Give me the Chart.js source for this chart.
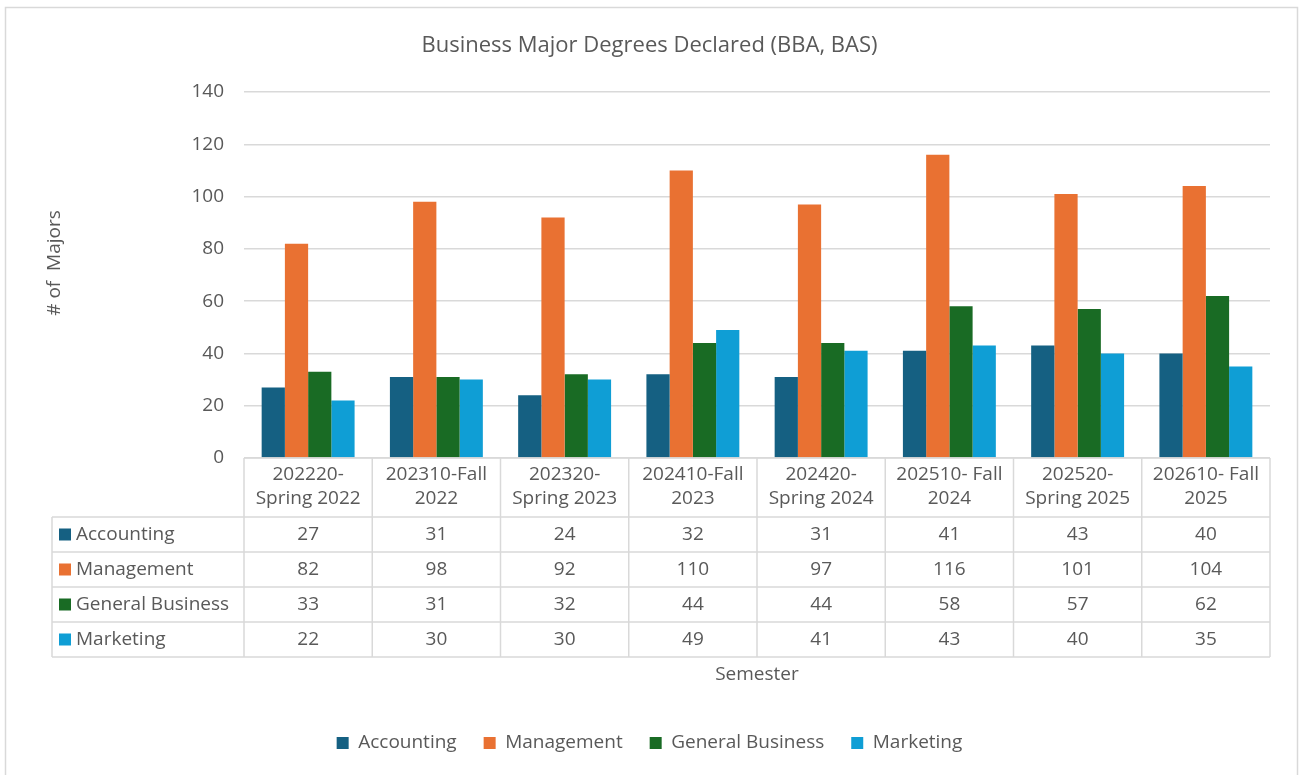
<!DOCTYPE html>
<html><head><meta charset="utf-8">
<script src="https://cdn.jsdelivr.net/npm/chart.js@4.4.1/dist/chart.umd.min.js"></script>
<style>html,body{margin:0;padding:0;background:#fff;}canvas{display:block;}</style>
</head><body>
<canvas id="c" width="1299" height="775"></canvas>
<script>
const chartTitle = 'Business Major Degrees Declared (BBA, BAS)';
const xAxisTitle = 'Semester';
const yAxisTitle = '# of  Majors';
const categories = [
  ['202220-', 'Spring 2022'],
  ['202310-Fall', '2022'],
  ['202320-', 'Spring 2023'],
  ['202410-Fall', '2023'],
  ['202420-', 'Spring 2024'],
  ['202510- Fall', '2024'],
  ['202520-', 'Spring 2025'],
  ['202610- Fall', '2025']
];
const seriesNames = ['Accounting', 'Management', 'General Business', 'Marketing'];
const accounting = [27, 31, 24, 32, 31, 41, 43, 40];
const management = [82, 98, 92, 110, 97, 116, 101, 104];
const generalBusiness = [33, 31, 32, 44, 44, 58, 57, 62];
const marketing = [22, 30, 30, 49, 41, 43, 40, 35];
const yTickMin = 0, yTickMax = 140, yTickStep = 20;
const seriesColors = ['#156082', '#E97132', '#196B24', '#0F9ED5'];

const seriesValues = [accounting, management, generalBusiness, marketing];
const FONT = "'Open Sans', 'Noto Sans', sans-serif";
const TEXT = '#595959';
const LINE = '#D9D9D9';
const BODY = 19;

const framePlugin = {
  id: 'frame',
  beforeDraw(chart) {
    const ctx = chart.ctx;
    ctx.save();
    ctx.fillStyle = '#fff';
    ctx.fillRect(0, 0, chart.width, chart.height);
    ctx.strokeStyle = LINE;
    ctx.lineWidth = 1.5;
    ctx.strokeRect(5.5, 7.5, 1292, 800);
    ctx.restore();
  }
};

const tablePlugin = {
  id: 'dataTable',
  afterDraw(chart) {
    const ctx = chart.ctx;
    const xs = chart.scales.x;
    const area = chart.chartArea;
    const n = categories.length;
    const colW = (area.right - area.left) / n;
    const tableLeft = 52;
    const headTop = area.bottom;
    const headH = 59;
    const rowH = 35;
    const rowsTop = headTop + headH;
    const tableBottom = rowsTop + rowH * seriesNames.length;
    ctx.save();
    ctx.strokeStyle = LINE;
    ctx.lineWidth = 1.5;
    ctx.beginPath();
    ctx.moveTo(area.left, headTop); ctx.lineTo(area.right, headTop);
    for (let i = 0; i <= n; i++) {
      const x = area.left + i * colW;
      ctx.moveTo(x, headTop); ctx.lineTo(x, tableBottom);
    }
    ctx.moveTo(tableLeft, rowsTop); ctx.lineTo(tableLeft, tableBottom);
    for (let r = 0; r <= seriesNames.length; r++) {
      const y = rowsTop + r * rowH;
      ctx.moveTo(tableLeft, y); ctx.lineTo(area.right, y);
    }
    ctx.stroke();

    ctx.fillStyle = TEXT;
    ctx.font = BODY + 'px ' + FONT;
    ctx.textAlign = 'center';
    ctx.textBaseline = 'middle';
    categories.forEach((lines, i) => {
      const cx = xs.getPixelForValue(i);
      lines.forEach((t, k) => ctx.fillText(t, cx, headTop + 17 + k * 24));
    });
    seriesValues.forEach((vals, r) => {
      const cy = rowsTop + r * rowH + rowH / 2;
      vals.forEach((v, i) => {
        ctx.fillText(String(v), xs.getPixelForValue(i), cy);
      });
      ctx.fillStyle = seriesColors[r];
      ctx.fillRect(tableLeft + 7, cy - 6, 12, 12);
      ctx.fillStyle = TEXT;
      ctx.textAlign = 'left';
      ctx.fillText(seriesNames[r], tableLeft + 24, cy);
      ctx.textAlign = 'center';
    });

    ctx.save();
    ctx.translate(55, 263);
    ctx.rotate(-Math.PI / 2);
    ctx.fillText(yAxisTitle, 0, 0);
    ctx.restore();
    ctx.restore();
  }
};

new Chart(document.getElementById('c'), {
  type: 'bar',
  data: {
    labels: categories,
    datasets: seriesNames.map((name, i) => ({
      label: name,
      data: seriesValues[i],
      backgroundColor: seriesColors[i],
      borderWidth: 0,
      categoryPercentage: 1 / 1.38,
      barPercentage: 1
    }))
  },
  options: {
    responsive: false,
    animation: false,
    devicePixelRatio: 1,
    layout: { padding: { left: 0, right: 0, top: 0, bottom: 12.5 } },
    plugins: {
      title: {
        display: true,
        text: chartTitle,
        color: TEXT,
        font: { family: FONT, size: 22, weight: 'normal' },
        padding: { top: 32.8, bottom: 32.8 }
      },
      legend: {
        display: true,
        position: 'bottom',
        labels: {
          color: TEXT,
          font: { family: FONT, size: BODY },
          boxWidth: 12,
          boxHeight: 12,
          padding: 27
        }
      },
      tooltip: { enabled: false }
    },
    scales: {
      x: {
        grid: { display: false },
        border: { display: false },
        ticks: { display: false },
        title: {
          display: true,
          text: xAxisTitle,
          color: TEXT,
          font: { family: FONT, size: BODY },
          padding: { top: 0, bottom: 21 }
        },
        afterFit(s) { s.height = 248.5; }
      },
      y: {
        min: yTickMin,
        max: yTickMax,
        ticks: { stepSize: yTickStep, color: TEXT, font: { family: FONT, size: BODY }, padding: 20 },
        grid: { color: LINE, lineWidth: 1.5, drawTicks: false },
        border: { display: false },
        afterFit(s) { s.width = 244; }
      },
      yRight: {
        position: 'right',
        display: true,
        grid: { display: false },
        border: { display: false },
        ticks: { display: false },
        afterFit(s) { s.width = 29; }
      }
    }
  },
  plugins: [framePlugin, tablePlugin]
});
</script>
</body></html>
